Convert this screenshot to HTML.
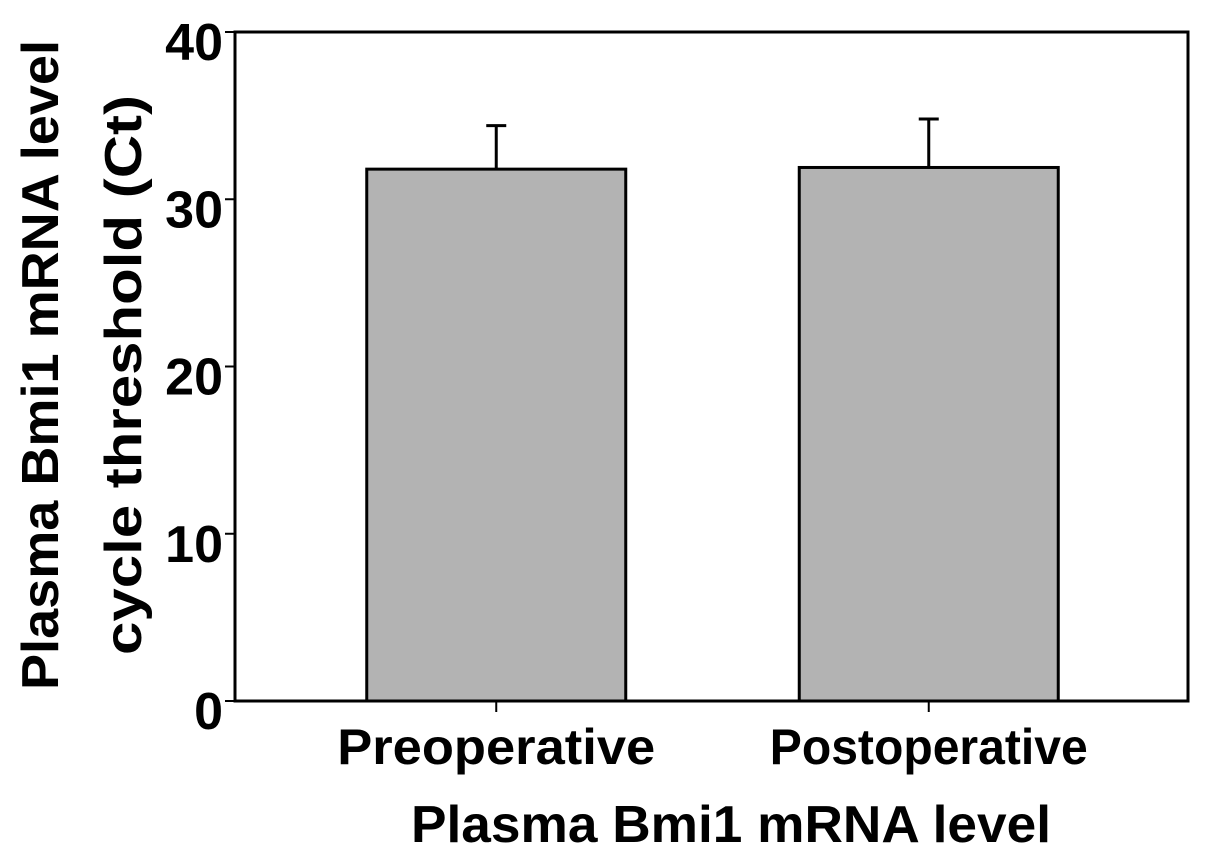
<!DOCTYPE html>
<html><head><meta charset="utf-8"><style>
body{margin:0;background:#fff}
svg{display:block}
text{font-family:"Liberation Sans",Arial,sans-serif;font-weight:bold;fill:#000}
</style></head><body>
<svg id="chart" width="1205" height="856" viewBox="0 0 1205 856" xmlns="http://www.w3.org/2000/svg"></svg>
<script>
const categories = ["Preoperative", "Postoperative"];
const values = [31.8, 31.9];
const errors = [2.6, 2.9];
const yTicks = [0, 10, 20, 30, 40];

const svg = document.getElementById('chart');
const NS = 'http://www.w3.org/2000/svg';
const L = 235, R = 1188, T = 32, B = 701;
const yMin = 0, yMax = 40;
function y(v){ return B - (v - yMin) / (yMax - yMin) * (B - T); }
const bandW = (R - L) / categories.length;
function xc(i){ return L + bandW * (i + 0.5) + (i === 0 ? 23 : -21); }
const barW = 259;

function mk(tag, attrs){
  const e = document.createElementNS(NS, tag);
  for (const k in attrs) e.setAttribute(k, attrs[k]);
  svg.appendChild(e);
  return e;
}

categories.forEach((c, i) => {
  const cx = xc(i);
  const r = mk('rect', {x: cx - barW/2, y: y(values[i]), width: barW, height: B - y(values[i]), fill: '#b3b3b3', stroke: '#000', 'stroke-width': 3});
  
  
  const eb = mk('path', {d: `M${cx} ${y(values[i])} V${y(values[i]+errors[i])} M${cx-10} ${y(values[i]+errors[i])} H${cx+10}`, stroke: '#000', 'stroke-width': 3, fill: 'none'});
  
  
  const tk = mk('line', {x1: cx, x2: cx, y1: B, y2: B + 11, stroke: '#000', 'stroke-width': 2});
  
  
  const lb = mk('text', {x: cx, y: 764, 'text-anchor': 'middle', 'font-size': 50, textLength: 318, lengthAdjust: 'spacingAndGlyphs'});
  lb.textContent = c;
  
  
});

const fr = mk('rect', {x: L, y: T, width: R - L, height: B - T, fill: 'none', stroke: '#000', 'stroke-width': 3});



yTicks.forEach(v => {
  const t = mk('line', {x1: L - 10, x2: L, y1: y(v), y2: y(v), stroke: '#000', 'stroke-width': 2});
  
  
  const lb = mk('text', {x: L - 12, y: y(v) + 28, 'text-anchor': 'end', 'font-size': 52});
  lb.textContent = v;
  
  
});

const xt = mk('text', {x: 731, y: 842, 'text-anchor': 'middle', 'font-size': 52, textLength: 640, lengthAdjust: 'spacingAndGlyphs'});
xt.textContent = 'Plasma Bmi1 mRNA level';


const yt1 = mk('text', {x: 0, y: 0, 'text-anchor': 'middle', 'font-size': 52, textLength: 650, lengthAdjust: 'spacingAndGlyphs', transform: 'translate(58,365) rotate(-90)'});
yt1.textContent = 'Plasma Bmi1 mRNA level';


const yt2 = mk('text', {x: 0, y: 0, 'text-anchor': 'middle', 'font-size': 52, textLength: 560, lengthAdjust: 'spacingAndGlyphs', transform: 'translate(141,375) rotate(-90)'});
yt2.textContent = 'cycle threshold (Ct)';


</script>
</body></html>
